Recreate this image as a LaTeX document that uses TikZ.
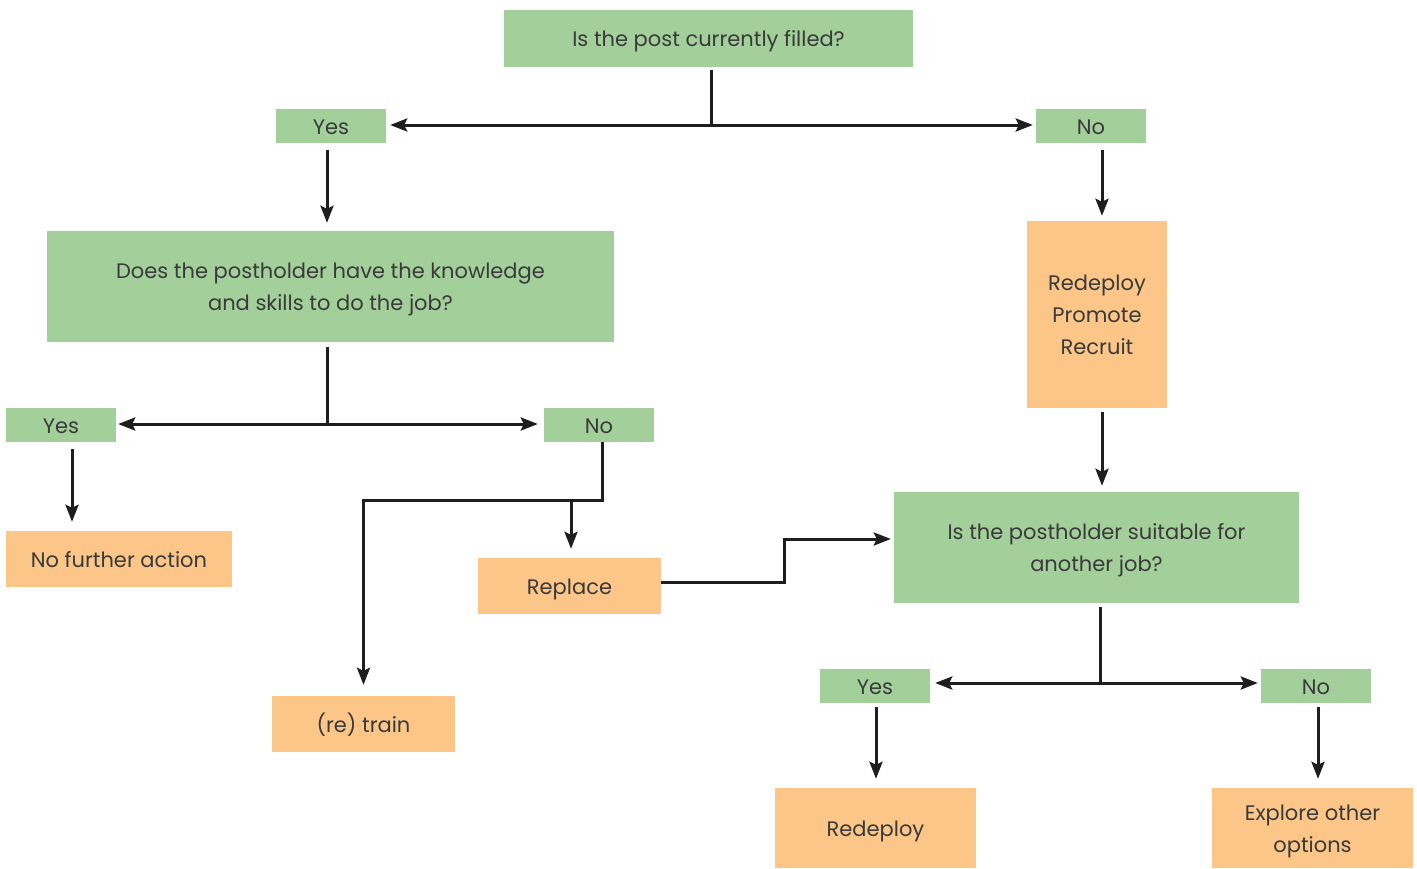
\documentclass[tikz,border=0pt]{standalone}
\usepackage{fontspec}
\setmainfont{Poppins}
\usetikzlibrary{arrows.meta}
\definecolor{qgreen}{HTML}{A3CF9B}
\definecolor{aorange}{HTML}{FBC688}
\definecolor{ink}{HTML}{3A3A3A}
\definecolor{wire}{HTML}{1E1E1E}
% centred box text, one or more lines, 32pt apart
\newcommand\boxtext[1]{\raisebox{-7pt}[0pt][0pt]{\begin{tabular}[c]{@{}c@{}}#1\end{tabular}}}
\tikzset{
  box/.style={inner sep=0pt, text=ink, font=\fontsize{21}{32}\selectfont},
  qbox/.style={box, fill=qgreen},
  abox/.style={box, fill=aorange},
  wirel/.style={draw=wire, line width=3pt},
  arr/.style={wirel, -{Stealth[length=17pt,width=13pt,inset=3pt]}},
}
\begin{document}
\begin{tikzpicture}[x=1pt,y=-1pt]
\useasboundingbox (0,0) rectangle (1417,868);
% question and answer boxes
\node[qbox, minimum width=409, minimum height=57] (q1) at (708.5,38.5) {\boxtext{Is the post currently filled?}};
\node[qbox, minimum width=110, minimum height=34] (yes1) at (331,126) {\boxtext{Yes}};
\node[qbox, minimum width=110, minimum height=34] (no1) at (1091,126) {\boxtext{No}};
\node[qbox, minimum width=567, minimum height=111] (q2) at (330.5,286.5) {\boxtext{Does the postholder have the knowledge\\and skills to do the job?}};
\node[qbox, minimum width=110, minimum height=34] (yes2) at (61,425) {\boxtext{Yes}};
\node[qbox, minimum width=110, minimum height=34] (no2) at (599,425) {\boxtext{No}};
\node[abox, minimum width=226, minimum height=56] (nfa) at (119,559) {\boxtext{No further action}};
\node[abox, minimum width=183, minimum height=56] (repl) at (569.5,586) {\boxtext{Replace}};
\node[abox, minimum width=183, minimum height=56] (train) at (363.5,724) {\boxtext{(re) train}};
\node[abox, minimum width=140, minimum height=187] (rpr) at (1097,314.5) {\boxtext{Redeploy\\Promote\\Recruit}};
\node[qbox, minimum width=405, minimum height=111] (q3) at (1096.5,547.5) {\boxtext{Is the postholder suitable for\\another job?}};
\node[qbox, minimum width=110, minimum height=34] (yes3) at (875,686) {\boxtext{Yes}};
\node[qbox, minimum width=110, minimum height=34] (no3) at (1316,686) {\boxtext{No}};
\node[abox, minimum width=201, minimum height=80] (redep) at (875.5,828) {\boxtext{Redeploy}};
\node[abox, minimum width=201, minimum height=80] (expl) at (1312.5,828) {\boxtext{Explore other\\options}};

% junction points
\coordinate (j1) at (711,125);
\coordinate (j2) at (327,424);
\coordinate (j3) at (1100,683);
\coordinate (s1) at (602,500);
\coordinate (s2) at (784,539);

% first split
\draw[wirel, shorten <=3pt] (q1.south -| j1) -- (j1);
\draw[arr, shorten >=4pt] (j1) -- (yes1.east |- j1);
\draw[arr, shorten >=3pt] (j1) -- (no1.west |- j1);
\draw[arr, shorten <=7pt, shorten >=8pt] (yes1.south -| j2) -- (q2.north -| j2);
\draw[arr, shorten <=7pt, shorten >=5pt] (no1.south -| 1102,0) -- (rpr.north -| 1102,0);

% second split
\draw[wirel, shorten <=5pt] (q2.south -| j2) -- (j2);
\draw[arr, shorten >=2pt] (j2) -- (yes2.east |- j2);
\draw[arr, shorten >=6pt] (j2) -- (no2.west |- j2);
\draw[arr, shorten <=7pt, shorten >=9pt] (yes2.south -| 72,0) -- (nfa.north -| 72,0);

% No: replace or (re) train
\draw[arr, shorten >=11pt] (no2.south -| s1) -- (s1) -- (s1 -| train.north) -- (train.north);
\draw[arr, shorten >=9pt] (s1 -| 571,0) -- (repl.north -| 571,0);
\draw[arr, shorten >=3pt] (repl.east |- 0,582) -| (s2) -- (q3.west |- s2);

% Redeploy/Promote/Recruit into the third question
\draw[arr, shorten <=4pt, shorten >=6pt] (rpr.south -| 1102,0) -- (q3.north -| 1102,0);

% third split
\draw[wirel, shorten <=4pt] (q3.south -| j3) -- (j3);
\draw[arr, shorten >=5pt] (j3) -- (yes3.east |- j3);
\draw[arr, shorten >=3pt] (j3) -- (no3.west |- j3);
\draw[arr, shorten <=4pt, shorten >=9pt] (yes3.south -| 876,0) -- (redep.north -| 876,0);
\draw[arr, shorten <=4pt, shorten >=9pt] (no3.south -| 1318,0) -- (expl.north -| 1318,0);
\end{tikzpicture}
\end{document}
